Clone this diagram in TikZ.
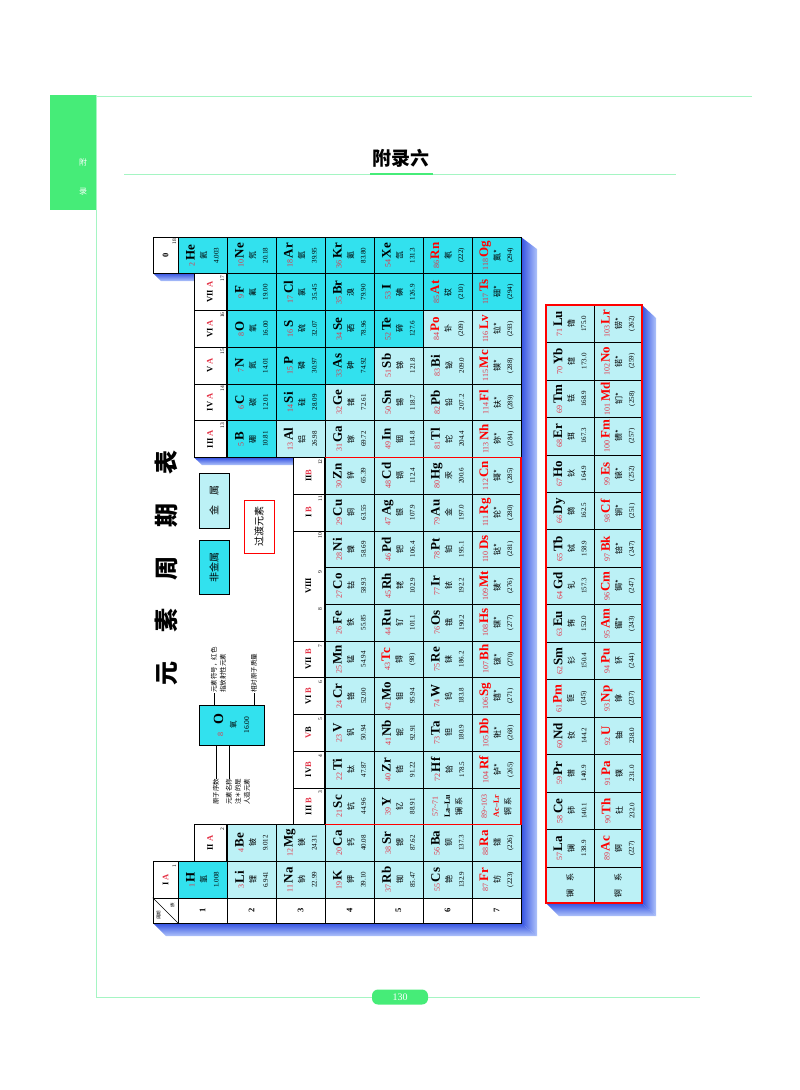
\documentclass[tikz,border=0pt]{standalone}
\usepackage{fontspec}
\setmainfont{Liberation Serif}
\newfontfamily\cjk{Noto Sans CJK SC}
\definecolor{nm}{RGB}{50,225,238}
\definecolor{mt}{RGB}{188,241,246}
\definecolor{rn}{RGB}{228,50,70}
\definecolor{pg}{RGB}{165,245,195}
\definecolor{sg}{RGB}{70,236,120}
\definecolor{shA}{RGB}{50,80,225}
\definecolor{shB}{RGB}{175,195,250}
\begin{document}
\begin{tikzpicture}[x=1pt,y=-1pt,
 cell/.style={draw,line width=0.6pt,minimum width=49pt,minimum height=36.72pt,inner sep=0pt},
 fcell/.style={draw,line width=0.6pt,minimum width=48pt,minimum height=37.47pt,inner sep=0pt,fill=mt},
 etext/.style={rotate=90,align=center,inner sep=0pt,font=\fontsize{8}{12}\selectfont},
 hdr/.style={draw,line width=0.6pt,fill=white,minimum height=36.72pt,inner sep=0pt},
 htext/.style={rotate=90,inner sep=0pt,font=\fontsize{8.5}{9}\selectfont\bfseries},
 small/.style={rotate=90,inner sep=0pt,font=\fontsize{5.5}{5.5}\selectfont},
 lbl/.style={rotate=90,inner sep=0pt,font=\cjk\fontsize{6.5}{8}\selectfont},
 pageline/.style={draw=pg,line width=0.8pt}]
\useasboundingbox (0,0) rectangle (800,1090);
% page frame
\fill[sg] (50,95) rectangle (96,210);
\node[text=white,font=\cjk\fontsize{8}{8}\selectfont] (sa) at (83,162) {附};
\node[text=white,font=\cjk\fontsize{8}{8}\selectfont] (sb) at (83,192) {录};
\draw[pageline] (96,96) -- (752,96);
\draw[pageline] (96,95) -- (96,997);
\node[font=\cjk\bfseries\fontsize{19}{19}\selectfont] (title) at (401,158) {附录六};
\draw[pageline] (124,174) -- (676,174);
\draw[sg,line width=2.5pt] (370,174) -- (433,174);
\draw[pageline] (96,997) -- (700,997);
\node[fill=sg,rounded corners=6pt,minimum width=56pt,minimum height=15pt,text=white,font=\fontsize{10}{10}\selectfont,inner sep=0pt] (pno) at (400,997) {130};
% shadows
\shade[left color=shA,right color=shB] (521,237) -- (537,249) -- (537,936) -- (521,923) -- cycle;
\shade[top color=shA,bottom color=shB] (153,923) -- (521,923) -- (537,936) -- (166,936) -- cycle;
\shade[top color=shA,bottom color=shB] (153,273) -- (194,273) -- (194,281) -- (161,281) -- cycle;
\shade[top color=shA,bottom color=shB] (194,457.4) -- (293,457.4) -- (293,465) -- (202,465) -- cycle;
\shade[left color=shA,right color=shB] (642,305) -- (656,318) -- (656,916) -- (642,903) -- cycle;
\shade[top color=shA,bottom color=shB] (546,903) -- (642,903) -- (656,916) -- (559,916) -- cycle;
% elements
\foreach \p/\g/\z/\s/\nm/\ms/\t in {
1/1/1/H/氢/1.008/1, 1/18/2/He/氦/4.003/1,
2/1/3/Li/锂/6.941/0, 2/2/4/Be/铍/9.012/0, 2/13/5/B/硼/10.81/1, 2/14/6/C/碳/12.01/1, 2/15/7/N/氮/14.01/1, 2/16/8/O/氧/16.00/1, 2/17/9/F/氟/19.00/1, 2/18/10/Ne/氖/20.18/1,
3/1/11/Na/钠/22.99/0, 3/2/12/Mg/镁/24.31/0, 3/13/13/Al/铝/26.98/0, 3/14/14/Si/硅/28.09/1, 3/15/15/P/磷/30.97/1, 3/16/16/S/硫/32.07/1, 3/17/17/Cl/氯/35.45/1, 3/18/18/Ar/氩/39.95/1,
4/1/19/K/钾/39.10/0, 4/2/20/Ca/钙/40.08/0, 4/3/21/Sc/钪/44.96/0, 4/4/22/Ti/钛/47.87/0, 4/5/23/V/钒/50.94/0, 4/6/24/Cr/铬/52.00/0, 4/7/25/Mn/锰/54.94/0, 4/8/26/Fe/铁/55.85/0, 4/9/27/Co/钴/58.93/0, 4/10/28/Ni/镍/58.69/0, 4/11/29/Cu/铜/63.55/0, 4/12/30/Zn/锌/65.39/0, 4/13/31/Ga/镓/69.72/0, 4/14/32/Ge/锗/72.61/0, 4/15/33/As/砷/74.92/1, 4/16/34/Se/硒/78.96/1, 4/17/35/Br/溴/79.90/1, 4/18/36/Kr/氪/83.80/1,
5/1/37/Rb/铷/85.47/0, 5/2/38/Sr/锶/87.62/0, 5/3/39/Y/钇/88.91/0, 5/4/40/Zr/锆/91.22/0, 5/5/41/Nb/铌/92.91/0, 5/6/42/Mo/钼/95.94/0, 5/7/43/Tc/锝/(98)/2, 5/8/44/Ru/钌/101.1/0, 5/9/45/Rh/铑/102.9/0, 5/10/46/Pd/钯/106.4/0, 5/11/47/Ag/银/107.9/0, 5/12/48/Cd/镉/112.4/0, 5/13/49/In/铟/114.8/0, 5/14/50/Sn/锡/118.7/0, 5/15/51/Sb/锑/121.8/0, 5/16/52/Te/碲/127.6/1, 5/17/53/I/碘/126.9/1, 5/18/54/Xe/氙/131.3/1,
6/1/55/Cs/铯/132.9/0, 6/2/56/Ba/钡/137.3/0, 6/4/72/Hf/铪/178.5/0, 6/5/73/Ta/钽/180.9/0, 6/6/74/W/钨/183.8/0, 6/7/75/Re/铼/186.2/0, 6/8/76/Os/锇/190.2/0, 6/9/77/Ir/铱/192.2/0, 6/10/78/Pt/铂/195.1/0, 6/11/79/Au/金/197.0/0, 6/12/80/Hg/汞/200.6/0, 6/13/81/Tl/铊/204.4/0, 6/14/82/Pb/铅/207.2/0, 6/15/83/Bi/铋/209.0/0, 6/16/84/Po/钋/(209)/2, 6/17/85/At/砹/(210)/3, 6/18/86/Rn/氡/(222)/3,
7/1/87/Fr/钫/(223)/2, 7/2/88/Ra/镭/(226)/2, 7/4/104/Rf/𬬻*/(265)/2, 7/5/105/Db/𬭊*/(268)/2, 7/6/106/Sg/𬭳*/(271)/2, 7/7/107/Bh/𬭛*/(270)/2, 7/8/108/Hs/𬭶*/(277)/2, 7/9/109/Mt/鿏*/(276)/2, 7/10/110/Ds/𫟼*/(281)/2, 7/11/111/Rg/𬬭*/(280)/2, 7/12/112/Cn/鿔*/(285)/2, 7/13/113/Nh/鿭*/(284)/2, 7/14/114/Fl/𫓧*/(289)/2, 7/15/115/Mc/镆*/(288)/2, 7/16/116/Lv/𫟷*/(293)/2, 7/17/117/Ts/鿬*/(294)/3, 7/18/118/Og/鿫*/(294)/3}{
 \pgfmathsetmacro\cx{178+(\p-0.5)*49}
 \pgfmathsetmacro\cy{898-(\g-0.5)*36.72}
 \pgfmathtruncatemacro\od{mod(\t,2)}
 \ifnum\od=1 \def\fc{nm}\else\def\fc{mt}\fi
 \ifnum\t>1 \def\sc{red}\else\def\sc{black}\fi
 \node[cell,fill=\fc] (e\z) at (\cx,\cy) {};
 \node[etext] (t\z) at (e\z.center) {{\color{rn}\fontsize{8}{9}\selectfont\z}\,{\color{\sc}\fontsize{13}{12}\selectfont\bfseries\s}\\{\cjk\nm}\\{\fontsize{7}{8}\selectfont\ms}};
}
% La-Lu, Ac-Lr
\node[cell,fill=mt] (eLa) at ({178+5.5*49},{898-2.5*36.72}) {};
\node[etext] (tLa) at (eLa.center) {{\color{rn}57\textasciitilde71}\\{\bfseries La\textendash Lu}\\{\cjk 镧\ 系}};
\node[cell,fill=mt] (eAc) at ({178+6.5*49},{898-2.5*36.72}) {};
\node[etext] (tAc) at (eAc.center) {{\color{rn}89\textasciitilde103}\\{\color{red}\bfseries Ac\textendash Lr}\\{\cjk 锕\ 系}};
% transition border
\draw[red,line width=1.1pt] (324,457.36) rectangle (521,824.56);
% headers
\foreach \g/\xa/\xb/\lab in {1/153/178/{I \textcolor{rn}{A}},2/194/226/{II \textcolor{rn}{A}},3/293/324/{III \textcolor{rn}{B}},4/293/324/{IV\textcolor{rn}{B}},5/293/324/{\textcolor{rn}{V}B},6/293/324/{VI \textcolor{rn}{B}},7/293/324/{VII \textcolor{rn}{B}},11/293/324/{I \textcolor{rn}{B}},12/293/324/{II\textcolor{rn}{B}},13/194/226/{III \textcolor{rn}{A}},14/194/226/{IV \textcolor{rn}{A}},15/194/226/{V \textcolor{rn}{A}},16/194/226/{VI \textcolor{rn}{A}},17/194/226/{VII \textcolor{rn}{A}},18/153/178/{0}}{
 \pgfmathsetmacro\cy{898-(\g-0.5)*36.72}
 \pgfmathsetmacro\cx{(\xa+\xb)/2}
 \pgfmathsetmacro\ww{\xb-\xa}
 \node[hdr,minimum width=\ww pt] (h\g) at (\cx,\cy) {};
 \node[htext] (ht\g) at (h\g.center) {\lab};
 \node[small] (hn\g) at ([shift={(-4,5)}]h\g.north east) {\g};
}
\node[hdr,minimum width=31pt,minimum height=110.16pt] (h8) at (308.5,{898-8.5*36.72}) {};
\node[htext] (ht8) at (h8.center) {VIII};
\foreach \g in {8,9,10}{
 \node[small] (hn\g) at (320,{898-\g*36.72+5}) {\g};
}
% period labels
\foreach \p in {1,...,7}{
 \node[draw,line width=0.6pt,fill=white,minimum width=49pt,minimum height=25pt,inner sep=0pt] (pr\p) at ({178+(\p-0.5)*49},910.5) {};
 \node[rotate=90,font=\fontsize{8.5}{8}\selectfont\bfseries] (pt\p) at (pr\p.center) {\p};
}
\node[draw,line width=0.6pt,fill=white,minimum width=25pt,minimum height=25pt,inner sep=0pt] (corner) at (165.5,910.5) {};
\draw[line width=0.5pt] (corner.north west) -- (corner.south east);
\node[small,font=\cjk\fontsize{4.5}{5}\selectfont] (cz) at ([shift={(-6,8)}]corner.north east) {族};
\node[small,font=\cjk\fontsize{4.5}{5}\selectfont] (cp) at ([shift={(6,-8)}]corner.south west) {周期};
% f-block
\foreach \z/\s/\nm/\ms/\t in {57/La/镧/138.9/0,58/Ce/铈/140.1/0,59/Pr/镨/140.9/0,60/Nd/钕/144.2/0,61/Pm/钷/(145)/2,62/Sm/钐/150.4/0,63/Eu/铕/152.0/0,64/Gd/钆/157.3/0,65/Tb/铽/158.9/0,66/Dy/镝/162.5/0,67/Ho/钬/164.9/0,68/Er/铒/167.3/0,69/Tm/铥/168.9/0,70/Yb/镱/173.0/0,71/Lu/镥/175.0/0,
89/Ac/锕/(227)/2,90/Th/钍/232.0/2,91/Pa/镤/231.0/2,92/U/铀/238.0/2,93/Np/镎/(237)/2,94/Pu/钚/(244)/2,95/Am/镅*/(243)/2,96/Cm/锔*/(247)/2,97/Bk/锫*/(247)/2,98/Cf/锎*/(251)/2,99/Es/锿*/(252)/2,100/Fm/镄*/(257)/2,101/Md/钔*/(258)/2,102/No/锘*/(259)/2,103/Lr/铹*/(262)/2}{
 \ifnum\z>88 \pgfmathsetmacro\r{\z-89}\def\cx{618}\else\pgfmathsetmacro\r{\z-57}\def\cx{570}\fi
 \pgfmathsetmacro\cy{867-(\r+0.5)*37.47}
 \ifnum\t>1 \def\sc{red}\else\def\sc{black}\fi
 \node[fcell] (f\z) at (\cx,\cy) {};
 \node[etext] (g\z) at (f\z.center) {{\color{rn}\fontsize{8}{9}\selectfont\z}\,{\color{\sc}\fontsize{13}{12}\selectfont\bfseries\s}\\{\cjk\nm}\\{\fontsize{7}{8}\selectfont\ms}};
}
\node[draw,line width=0.6pt,fill=mt,minimum width=48pt,minimum height=36pt,inner sep=0pt] (fl1) at (570,885) {};
\node[lbl,font=\cjk\fontsize{8}{8}\selectfont] (fl1t) at (fl1.center) {镧\quad 系};
\node[draw,line width=0.6pt,fill=mt,minimum width=48pt,minimum height=36pt,inner sep=0pt] (fl2) at (618,885) {};
\node[lbl,font=\cjk\fontsize{8}{8}\selectfont] (fl2t) at (fl2.center) {锕\quad 系};
\draw[red,line width=1.1pt] (546,305) rectangle (642,903);
% legend
\node[rotate=90,font=\cjk\bfseries\fontsize{24}{24}\selectfont] (maintitle) at (166,568) {元\hspace{1.2em}素\hspace{1.2em}周\hspace{1.2em}期\hspace{1.2em}表};
\node[draw,line width=0.8pt,fill=nm,minimum width=65pt,minimum height=40pt,inner sep=0pt] (sample) at (231.5,725) {};
\node[etext,font=\fontsize{7.5}{13}\selectfont] (samt) at (sample.center) {{\color{rn}\fontsize{8}{9}\selectfont 8}\quad{\fontsize{14}{14}\selectfont\bfseries O}\\{\cjk 氧}\\16.00};
\node[lbl,anchor=west] (l1) at (214,693) {元素符号，红色};
\node[lbl,anchor=west] (l2) at (223,693) {指放射性元素};
\node[lbl,anchor=west] (l3) at (254,693) {相对原子质量};
\draw[line width=0.6pt] (l1.west) -- (l1.west|-sample.north);
\draw[line width=0.6pt] (l3.west) -- (l3.west|-sample.north);
\node[lbl,anchor=west] (l4) at (216,805) {原子序数};
\node[lbl,anchor=west] (l5) at (229,805) {元素名称};
\node[lbl,anchor=west] (l6) at (238,805) {注＊的是};
\node[lbl,anchor=west] (l7) at (247,805) {人造元素};
\draw[line width=0.6pt] (l4.east) -- (l4.east|-sample.south);
\draw[line width=0.6pt] (l5.east) -- (l5.east|-sample.south);
\node[draw,line width=0.8pt,fill=nm,minimum width=30pt,minimum height=54pt,inner sep=0pt] (nmbox) at (214,567) {};
\node[lbl,font=\cjk\fontsize{10}{10}\selectfont] (nmt) at (nmbox.center) {非金属};
\node[draw,line width=0.8pt,fill=mt,minimum width=30pt,minimum height=55pt,inner sep=0pt] (mtbox) at (214,500.5) {};
\node[lbl,font=\cjk\fontsize{10}{10}\selectfont] (mtt) at (mtbox.center) {金\quad 属};
\node[draw=red,line width=1pt,fill=white,minimum width=30pt,minimum height=53pt,inner sep=0pt] (trbox) at (259,526.5) {};
\node[lbl,font=\cjk\fontsize{10}{10}\selectfont] (trt) at (trbox.center) {过渡元素};
\end{tikzpicture}
\end{document}
